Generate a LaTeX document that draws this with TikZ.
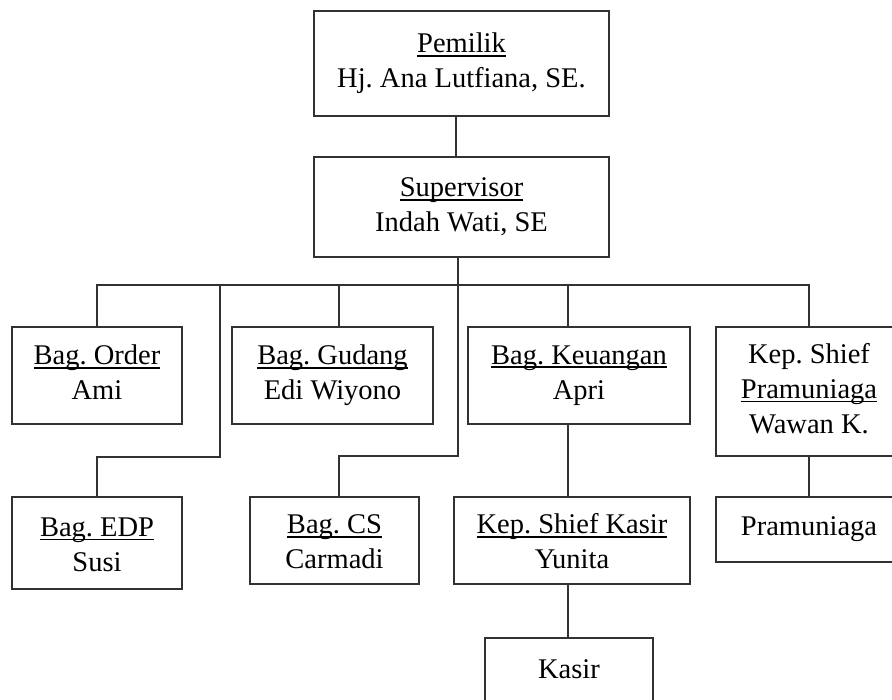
\documentclass[tikz,border=0pt]{standalone}
\usepackage{fontspec}
\setmainfont{Liberation Serif}
\usetikzlibrary{calc}
\frenchspacing
\newcommand{\ulx}[1]{\setbox0=\hbox{#1}\rlap{\rule[-4pt]{\wd0}{1.8pt}}\box0}
\newcommand{\dph}{\vphantom{gy}}
\newcommand{\tup}{\rule{0pt}{28pt}}
\definecolor{ln}{RGB}{50,50,50}
\begin{document}
\begin{tikzpicture}[x=1pt,y=-1pt,
  box/.style={draw=ln,line width=1.8pt,inner sep=0pt,align=center,
    font=\fontsize{28.5}{35}\selectfont,text=black},
  conn/.style={draw=ln,line width=1.8pt,line join=miter}]
\useasboundingbox (0,0) rectangle (892,700);
\fill[white] (0,0) rectangle (892,700);
\clip (0,0) rectangle (892,700);
% boxes
\node[box,minimum width=295pt,minimum height=105pt] (pem) at (461.5,63.5) {\ulx{Pemilik}\\Hj. Ana Lutfiana, SE.};
\node[box,minimum width=295pt,minimum height=100pt] (sup) at (461.5,207) {\ulx{Supervisor}\\Indah Wati, SE};
\node[box,minimum width=170pt,minimum height=97pt] (order) at (97,375.5) {\ulx{Bag. Order}\\Ami\dph};
\node[box,minimum width=201pt,minimum height=97pt] (gudang) at (332.5,375.5) {\ulx{Bag. Gudang}\\Edi Wiyono};
\node[box,minimum width=222pt,minimum height=97pt] (keu) at (579,375.5) {\ulx{Bag. Keuangan}\\Apri};
\node[box,minimum width=186pt,minimum height=129pt] (shief) at (809,391.5) {Kep. Shief\\\ulx{Pramuniaga}\\Wawan K.\dph};
\node[box,minimum width=170pt,minimum height=92pt] (edp) at (97,543) {\tup\ulx{Bag. EDP}\\Susi\dph};
\node[box,minimum width=169pt,minimum height=87pt] (cs) at (334.5,540.5) {\tup\ulx{Bag. CS}\\Carmadi\dph};
\node[box,minimum width=236pt,minimum height=87pt] (ks) at (572,540.5) {\tup\ulx{Kep. Shief Kasir}\\Yunita\dph};
\node[box,minimum width=186pt,minimum height=65pt] (pram) at (809,529.5) {Pramuniaga};
\node[box,minimum width=168pt,minimum height=80pt] (kasir) at (569,678) {\raisebox{0pt}[0pt][0pt]{Kasir}};
% connectors
\coordinate (bus) at (0,285);
\coordinate (g) at (339,285);
\coordinate (k) at (568,285);
\coordinate (e) at (220,285);
\coordinate (e2) at (220,457);
\coordinate (t) at (458,456);
\draw[conn] ([xshift=-5.5pt]pem.south) -- ([xshift=-5.5pt]sup.north);
\draw[conn] (order.north) -- (order.north |- bus) -- (shief.north |- bus) -- (shief.north);
\draw[conn] (g) -- (g |- gudang.north);
\draw[conn] (k) -- (k |- keu.north);
\draw[conn] (e) -- (e2) -| (edp.north);
\draw[conn] (sup.south -| t) -- (t) -| (g |- cs.north);
\draw[conn] (k |- keu.south) -- (k |- ks.north);
\draw[conn] (k |- ks.south) -- (k |- kasir.north);
\draw[conn] (shief.south) -- (pram.north);
\end{tikzpicture}
\end{document}
